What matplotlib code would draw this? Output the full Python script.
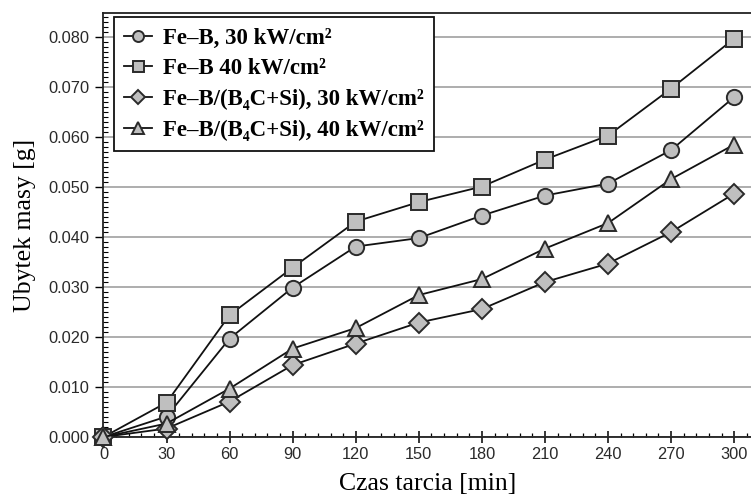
import numpy as np
import matplotlib.pyplot as plt
from matplotlib.ticker import MultipleLocator, FormatStrFormatter

# czas tarcia [min]
czas = [0, 30, 60, 90, 120, 150, 180, 210, 240, 270, 300]

# ubytek masy [g]
feb_30 = [0.0, 0.0041, 0.0197, 0.0299, 0.0381, 0.0398, 0.0443, 0.0483, 0.0507, 0.0574, 0.0680]
feb_40 = [0.0, 0.0069, 0.0244, 0.0339, 0.0431, 0.0470, 0.0501, 0.0555, 0.0603, 0.0697, 0.0797]
febc_30 = [0.0, 0.0017, 0.0071, 0.0144, 0.0187, 0.0229, 0.0256, 0.0310, 0.0347, 0.0410, 0.0487]
febc_40 = [0.0, 0.0027, 0.0097, 0.0177, 0.0218, 0.0284, 0.0316, 0.0377, 0.0428, 0.0516, 0.0585]

labels = [
    "Fe–B, 30 kW/cm²",
    "Fe–B 40 kW/cm²",
    "Fe–B/(B₄C+Si), 30 kW/cm²",
    "Fe–B/(B₄C+Si), 40 kW/cm²",
]

serif = ["Liberation Serif", "DejaVu Serif"]

fig = plt.figure(figsize=(7.51, 5.04), dpi=100)
ax = fig.add_axes([0.1378, 0.1329, 0.8622, 0.8411])

face = "#bfbfbf"
edge = "#2a2a2a"
series = [
    (feb_30, "o", 11),
    (feb_40, "s", 11),
    (febc_30, "D", 10.5),
    (febc_40, "^", 11.5),
]

for (vals, mk, ms), lab in zip(series, labels):
    ax.plot(czas, vals, color="#111111", lw=1.3, marker=mk, markersize=ms,
            markerfacecolor=face, markeredgecolor=edge, markeredgewidth=1.4,
            label=lab, clip_on=False, zorder=3)

ax.set_xlim(0, 308)
ax.set_ylim(0, 0.0848)

ax.xaxis.set_major_locator(MultipleLocator(30))
ax.xaxis.set_minor_locator(MultipleLocator(6))
ax.yaxis.set_major_locator(MultipleLocator(0.01))
ax.yaxis.set_minor_locator(MultipleLocator(0.001))
ax.yaxis.set_major_formatter(FormatStrFormatter("%.3f"))

ax.grid(axis="y", which="major", color="#a0a0a0", lw=1.2, zorder=0)
ax.set_axisbelow(True)

ax.spines["right"].set_visible(False)
for s in ["left", "bottom", "top"]:
    ax.spines[s].set_linewidth(1.3)
    ax.spines[s].set_color("#222222")

ax.tick_params(axis="x", which="major", direction="inout", length=8, width=1.1,
               labelsize=11.8, pad=3)
ax.tick_params(axis="x", which="minor", direction="in", length=3, width=0.9)
ax.tick_params(axis="y", which="major", direction="out", length=6, width=1.0,
               labelsize=11.8, pad=4)
ax.tick_params(axis="y", which="minor", direction="in", length=3.5, width=0.8)
for t in ax.get_xticklabels() + ax.get_yticklabels():
    t.set_family(["Liberation Sans", "DejaVu Sans"])
    t.set_color("#2a2a2a")

ax.set_xlabel("Czas tarcia [min]", family=serif, fontsize=18.5, labelpad=8)
ax.set_ylabel("Ubytek masy [g]", family=serif, fontsize=18.5, labelpad=9)

leg = ax.legend(loc="upper left", bbox_to_anchor=(0.016, 0.99), borderaxespad=0,
                prop={"family": serif, "weight": "bold", "size": 16.5},
                markerscale=0.72, handlelength=1.2, handletextpad=0.5,
                labelspacing=0.42, borderpad=0.45, fancybox=False, framealpha=1)
leg.get_frame().set_edgecolor("#111111")
leg.get_frame().set_linewidth(1.3)

fig.savefig("out.png", dpi=100)
